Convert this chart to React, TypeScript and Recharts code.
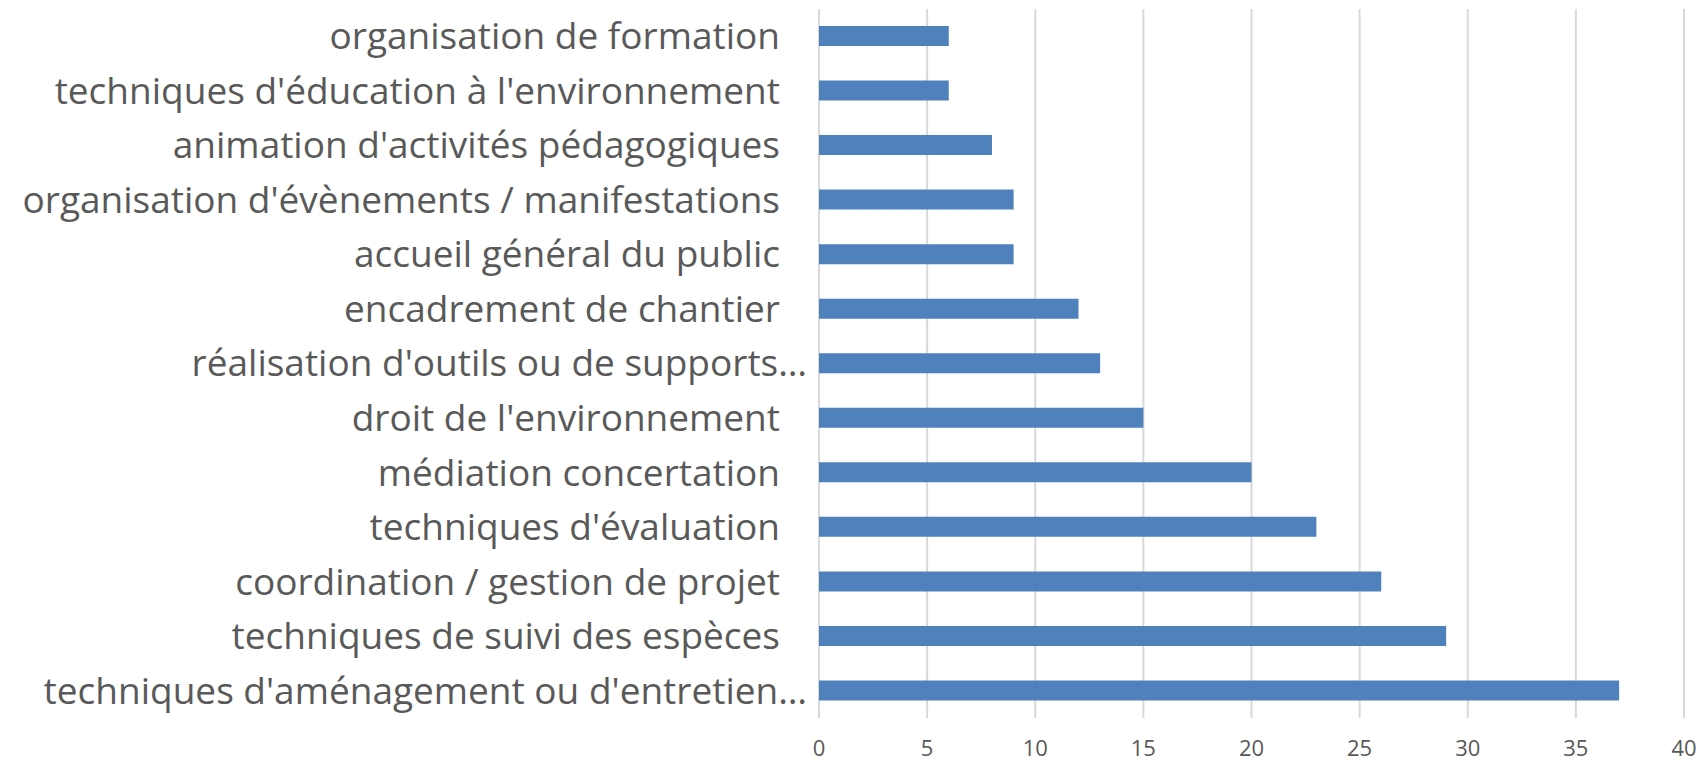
import { Bar, BarChart, CartesianGrid, XAxis, YAxis } from "recharts";

// Compétences recherchées — barres horizontales, style Excel.

const categories = [
  "organisation de formation",
  "techniques d'éducation à l'environnement",
  "animation d'activités pédagogiques",
  "organisation d'évènements / manifestations",
  "accueil général du public",
  "encadrement de chantier",
  "réalisation d'outils ou de supports…",
  "droit de l'environnement",
  "médiation concertation",
  "techniques d'évaluation",
  "coordination / gestion de projet",
  "techniques de suivi des espèces",
  "techniques d'aménagement ou d'entretien…",
];

const counts = [6, 6, 8, 9, 9, 12, 13, 15, 20, 23, 26, 29, 37];

const xTicks = [0, 5, 10, 15, 20, 25, 30, 35, 40];

const data = categories.map((name, i) => ({ name, value: counts[i] }));

const FONT = "'Open Sans', 'Noto Sans', sans-serif";
const GREY = "#595959";

function CategoryTick(props: any) {
  const { x, y, payload } = props;
  const label: string = payload.value;
  // les libellés tronqués débordent un peu plus vers la droite
  const dx = label.endsWith("…") ? -4 : -31;
  return (
    <text
      x={x + dx}
      y={y}
      dy="0.35em"
      textAnchor="end"
      fill={GREY}
      fontSize={37}
      fontFamily={FONT}
    >
      {label}
    </text>
  );
}

export default function App() {
  return (
    <div style={{ position: "absolute", left: 0, top: 0, background: "#fff" }}>
      <BarChart
        width={1708}
        height={762}
        data={data}
        layout="vertical"
        margin={{ top: 9, right: 24, bottom: 0, left: 0 }}
        barCategoryGap={0}
      >
        <CartesianGrid horizontal={false} stroke="#D9D9D9" strokeWidth={2} />
        <XAxis
          type="number"
          domain={[0, 40]}
          ticks={xTicks}
          height={44}
          axisLine={false}
          tickLine={false}
          tickSize={0}
          tickMargin={22}
          interval={0}
          tick={{ fontSize: 22, fill: GREY, fontFamily: FONT }}
        />
        <YAxis
          type="category"
          dataKey="name"
          width={819}
          axisLine={false}
          tickLine={false}
          interval={0}
          tick={<CategoryTick />}
        />
        <Bar dataKey="value" fill="#4F81BD" barSize={20} isAnimationActive={false} />
      </BarChart>
    </div>
  );
}
